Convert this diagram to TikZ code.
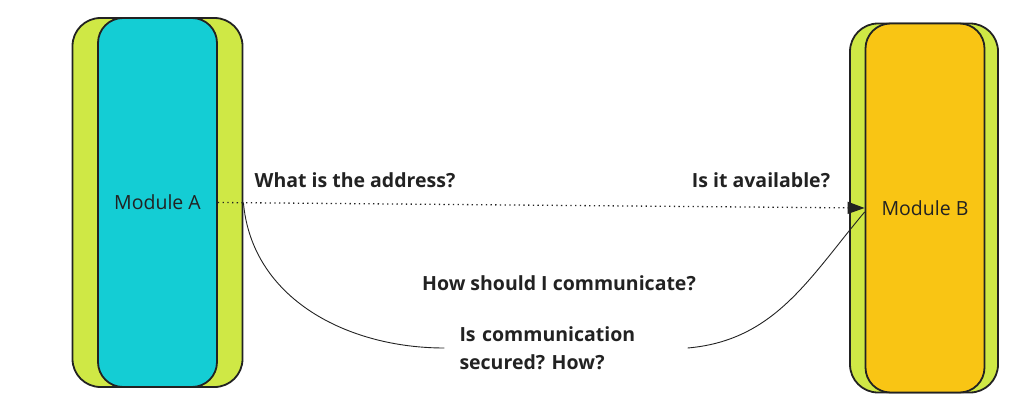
\documentclass[tikz,border=0pt]{standalone}
\usepackage{fontspec}
\setmainfont{Open Sans}
\usetikzlibrary{arrows.meta, positioning}
\frenchspacing

\definecolor{lime}{HTML}{CFE845}
\definecolor{cyanbox}{HTML}{14CDD4}
\definecolor{amber}{HTML}{F9C514}
\definecolor{ink}{HTML}{222222}

\begin{document}
\begin{tikzpicture}[x=1pt,y=1pt,
  outer/.style={draw=ink, line width=1.8pt, fill=lime, rounded corners=28pt,
    minimum height=369pt, inner sep=0pt},
  inner/.style={draw=ink, line width=1.8pt, rounded corners=25pt,
    minimum width=119pt, minimum height=369pt, inner sep=0pt,
    text=ink, font=\fontsize{19.5}{23}\selectfont},
  question/.style={text=ink, font=\fontsize{19.5}{28}\selectfont\bfseries}
]

\useasboundingbox (0,0) rectangle (1024,405);

% the two modules
\node[outer, minimum width=170pt] (modA) at (157.5,202.5) {};
\node[inner, fill=cyanbox] (modAin) at (157.5,202.5) {Module A};

\node[outer, minimum width=148pt] (modB) at (924,197) {};
\node[inner, fill=amber] (modBin) at (925,197) {Module B};

% questions
\node[question] (addr) at (355,225) {What is the address?};
\node[question] (avail) at (761,225) {Is it available?};
\node[question] (how) at (559,122) {How should I communicate?};
\node[question, align=left, text width=213pt, inner sep=15pt] (sec) at (566,57)
  {Is communication\\secured? How?};

% connectors
\draw[ink, line width=0.9pt] (modA.east) to[out=-85,in=180] (sec.west);
\draw[ink, line width=0.9pt] (sec.east) to[out=5,in=-130] ([yshift=-4pt]modBin.west);
\draw[ink, line width=1.3pt, dash pattern=on 1.3pt off 3.4pt, -{Triangle[length=17pt,width=12pt]}]
  (modAin.east) -- (modBin.west);

\end{tikzpicture}
\end{document}
